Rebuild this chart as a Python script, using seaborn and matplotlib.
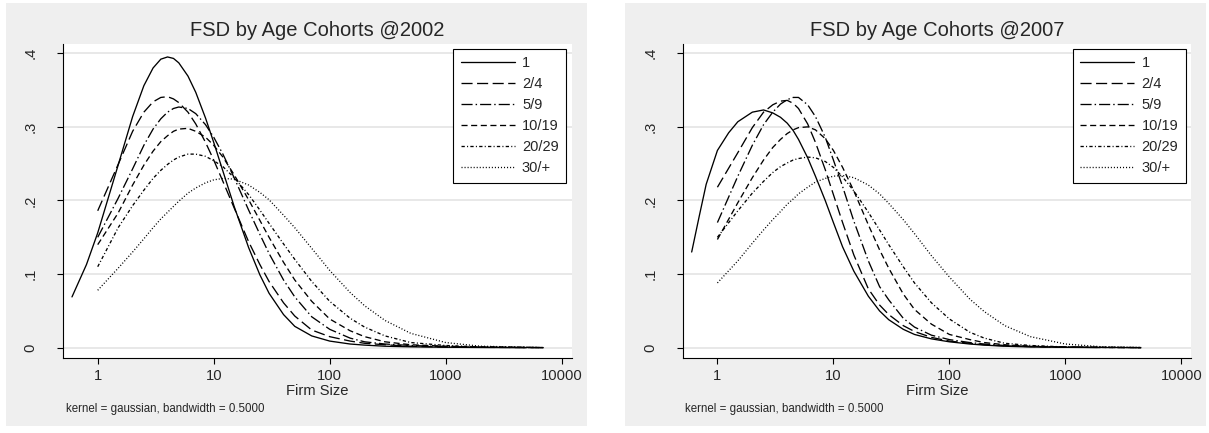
import matplotlib
matplotlib.use("Agg")
import matplotlib.pyplot as plt
from matplotlib.patches import Rectangle
from matplotlib.lines import Line2D
import pandas as pd
import seaborn as sns

sns.set_theme(style="white")
plt.rcParams['font.family'] = ['Liberation Sans', 'DejaVu Sans']

# ---------------- data ----------------
cohorts = ["1", "2/4", "5/9", "10/19", "20/29", "30/+"]
years = ["2002", "2007"]

size_grid_2002 = [1, 1.5, 2, 2.5, 3, 3.5, 4, 4.5, 5, 6, 7, 8.5, 10, 12, 15, 20, 25, 30, 40, 50,
                  70, 100, 150, 200, 300, 500, 1000, 2000, 7000]
size_grid_2007 = [1, 1.5, 2, 2.5, 3, 3.5, 4, 4.5, 5, 6, 7, 8.5, 10, 12, 15, 20, 25, 30, 40, 50,
                  70, 100, 150, 200, 300, 500, 1000, 2000, 4500]
size_c1_2002 = [0.6, 0.8, 1, 1.5, 2, 2.5, 3, 3.5, 4, 4.5, 5, 6, 7, 8.5, 10, 12, 15, 20, 25, 30,
                40, 50, 70, 100, 150, 200, 300, 500, 1000, 2000, 5000]
size_c1_2007 = [0.6, 0.7, 0.8, 1, 1.25, 1.5, 2, 2.5, 3, 3.5, 4, 4.5, 5, 6, 7, 8.5, 10, 12, 15,
                20, 25, 30, 40, 50, 70, 100, 150, 200, 300, 500, 1000, 2000]

d2002_c1 = [0.069, 0.113, 0.156, 0.248, 0.314, 0.356, 0.380, 0.392, 0.395, 0.393, 0.387, 0.369,
            0.347, 0.312, 0.279, 0.240, 0.192, 0.136, 0.099, 0.074, 0.045, 0.029, 0.016, 0.009,
            0.005, 0.0035, 0.002, 0.0012, 0.0006, 0.0003, 0.0001]
d2002_c2 = [0.186, 0.249, 0.294, 0.320, 0.334, 0.340, 0.341, 0.338, 0.333, 0.320, 0.304, 0.279,
            0.255, 0.226, 0.190, 0.144, 0.113, 0.090, 0.061, 0.043, 0.024, 0.015, 0.009, 0.006,
            0.004, 0.002, 0.001, 0.0005, 0.0001]
d2002_c3 = [0.150, 0.203, 0.243, 0.275, 0.297, 0.311, 0.320, 0.325, 0.327, 0.325, 0.318, 0.303,
            0.286, 0.263, 0.231, 0.187, 0.154, 0.128, 0.092, 0.069, 0.042, 0.025, 0.013, 0.008,
            0.005, 0.003, 0.0015, 0.0007, 0.0001]
d2002_c4 = [0.140, 0.183, 0.221, 0.248, 0.267, 0.280, 0.288, 0.294, 0.297, 0.298, 0.294, 0.286,
            0.275, 0.259, 0.235, 0.201, 0.173, 0.150, 0.116, 0.092, 0.063, 0.039, 0.023, 0.015,
            0.008, 0.004, 0.002, 0.001, 0.0001]
d2002_c5 = [0.110, 0.163, 0.193, 0.214, 0.230, 0.241, 0.249, 0.255, 0.259, 0.263, 0.263, 0.260,
            0.254, 0.246, 0.231, 0.208, 0.187, 0.169, 0.141, 0.120, 0.090, 0.063, 0.040, 0.028,
            0.016, 0.007, 0.003, 0.001, 0.0002]
d2002_c6 = [0.078, 0.108, 0.130, 0.148, 0.163, 0.175, 0.184, 0.192, 0.199, 0.210, 0.217, 0.224,
            0.228, 0.230, 0.229, 0.221, 0.211, 0.201, 0.180, 0.163, 0.135, 0.105, 0.075, 0.057,
            0.037, 0.0195, 0.007, 0.002, 0.0002]

d2007_c1 = [0.130, 0.180, 0.222, 0.268, 0.292, 0.307, 0.320, 0.323, 0.319, 0.313, 0.305, 0.295,
            0.283, 0.258, 0.233, 0.200, 0.170, 0.137, 0.104, 0.070, 0.050, 0.038, 0.025, 0.018,
            0.012, 0.008, 0.005, 0.0035, 0.002, 0.001, 0.0005, 0.0002]
d2007_c2 = [0.218, 0.265, 0.299, 0.320, 0.330, 0.335, 0.336, 0.332, 0.325, 0.304, 0.279, 0.242,
            0.208, 0.170, 0.126, 0.080, 0.058, 0.045, 0.030, 0.022, 0.014, 0.009, 0.006, 0.004,
            0.0025, 0.0015, 0.0007, 0.0003, 0.0001]
d2007_c3 = [0.170, 0.233, 0.275, 0.303, 0.320, 0.331, 0.337, 0.340, 0.340, 0.330, 0.314, 0.286,
            0.255, 0.219, 0.172, 0.118, 0.083, 0.065, 0.040, 0.028, 0.017, 0.011, 0.007, 0.005,
            0.003, 0.0018, 0.0008, 0.0004, 0.0001]
d2007_c4 = [0.147, 0.197, 0.231, 0.255, 0.272, 0.283, 0.291, 0.296, 0.299, 0.300, 0.296, 0.284,
            0.268, 0.245, 0.213, 0.167, 0.133, 0.108, 0.073, 0.052, 0.032, 0.018, 0.011, 0.007,
            0.004, 0.002, 0.001, 0.0005, 0.0001]
d2007_c5 = [0.150, 0.186, 0.210, 0.226, 0.238, 0.246, 0.251, 0.255, 0.257, 0.259, 0.258, 0.253,
            0.245, 0.232, 0.213, 0.184, 0.160, 0.140, 0.110, 0.088, 0.061, 0.039, 0.021, 0.013,
            0.006, 0.003, 0.001, 0.0005, 0.0001]
d2007_c6 = [0.088, 0.118, 0.142, 0.160, 0.174, 0.185, 0.195, 0.202, 0.209, 0.218, 0.225, 0.230,
            0.233, 0.234, 0.231, 0.221, 0.209, 0.196, 0.174, 0.155, 0.125, 0.096, 0.066, 0.049,
            0.030, 0.015, 0.005, 0.0014, 0.0003]

y_ticks = [0, 0.1, 0.2, 0.3, 0.4]
y_tick_labels = ["0", ".1", ".2", ".3", ".4"]
x_ticks = [1, 10, 100, 1000, 10000]
x_tick_labels = ["1", "10", "100", "1000", "10000"]

# ---------------- styling ----------------
W, H = 1209, 433
LW = 0.95
dash_map = {
    "1": "",
    "2/4": (8.4, 3.4),
    "5/9": (8.4, 2.3, 1.1, 2.3),
    "10/19": (4.6, 2.7),
    "20/29": (2.5, 1.7, 0.8, 1.7),
    "30/+": (0.8, 1.5),
}
BG = "#EFEFEF"
GRID = "#E6E6E6"

fig = plt.figure(figsize=(W / 100, H / 100), dpi=100)
fig.patch.set_facecolor("white")

# gray outer panels
for x0 in (6, 625):
    fig.patches.append(Rectangle((x0 / W, 7 / H), 581 / W, 423 / H, transform=fig.transFigure,
                                 facecolor=BG, edgecolor="none", zorder=-10))


def build_df(size_lists, dens_lists):
    frames = []
    for c, s, d in zip(cohorts, size_lists, dens_lists):
        frames.append(pd.DataFrame({"size": s, "density": d, "cohort": c}))
    return pd.concat(frames, ignore_index=True)


panels = [
    ("2002", 63.3, build_df([size_c1_2002] + [size_grid_2002] * 5,
                            [d2002_c1, d2002_c2, d2002_c3, d2002_c4, d2002_c5, d2002_c6])),
    ("2007", 683.0, build_df([size_c1_2007] + [size_grid_2007] * 5,
                             [d2007_c1, d2007_c2, d2007_c3, d2007_c4, d2007_c5, d2007_c6])),
]

ax_w = 508.4
ax_top, ax_bot = 44.0, 358.3

for year, left_px, df in panels:
    ax = fig.add_axes([left_px / W, (H - ax_bot) / H, ax_w / W, (ax_bot - ax_top) / H])
    ax.set_zorder(5)
    ax.set_facecolor("white")
    ax.set_xscale("log")
    ax.set_xlim(0.505, 12200)
    ax.set_ylim(-0.0144, 0.4126)
    ax.set_yticks(y_ticks)
    ax.set_yticklabels(y_tick_labels)
    ax.yaxis.grid(True, color=GRID, linewidth=1.3)
    ax.xaxis.grid(False)
    ax.set_axisbelow(True)

    sns.lineplot(data=df, x="size", y="density", style="cohort", style_order=cohorts,
                 dashes=dash_map, color="black", linewidth=LW, estimator=None, sort=False,
                 legend=False, ax=ax)

    ax.set_xticks(x_ticks)
    ax.set_xticklabels(x_tick_labels)
    ax.xaxis.set_minor_locator(matplotlib.ticker.NullLocator())

    for sp in ("top", "right"):
        ax.spines[sp].set_visible(False)
    for sp in ("left", "bottom"):
        ax.spines[sp].set_color("black")
        ax.spines[sp].set_linewidth(0.8)

    ax.tick_params(axis="x", which="major", direction="out", length=4, width=0.8,
                   color="black", labelsize=10.6, pad=3.5, bottom=True)
    ax.tick_params(axis="y", which="major", direction="out", length=4.5, width=0.8,
                   color="black", labelsize=10.6, pad=19, left=True)
    for lab in ax.get_yticklabels():
        lab.set_rotation(90)
        lab.set_va("center")
        lab.set_ha("center")

    ax.set_xlabel("Firm Size", fontsize=10.6, labelpad=1)
    ax.set_ylabel("")
    ax.set_title(f"FSD by Age Cohorts @{year}", fontsize=14.5, pad=6)

    handles = []
    for c in cohorts:
        if dash_map[c] == "":
            handles.append(Line2D([], [], color="black", lw=LW, linestyle="-"))
        else:
            handles.append(Line2D([], [], color="black", lw=LW, linestyle=(0, dash_map[c])))
    leg = ax.legend(handles, cohorts, loc="upper right",
                    bbox_to_anchor=(1 - 5.7 / ax_w, 1 - 5 / (ax_bot - ax_top)),
                    borderaxespad=0, frameon=True, fancybox=False, framealpha=1,
                    edgecolor="black", fontsize=10.5, handlelength=3.7, handletextpad=0.5,
                    labelspacing=0.48, borderpad=0.5)
    leg.get_frame().set_linewidth(0.8)

    fig.text((left_px + 2.4) / W, 1 - 409 / H, "kernel = gaussian, bandwidth = 0.5000",
             fontsize=8.3, va="center", ha="left")

fig.savefig("out.png", dpi=100, facecolor="white")
